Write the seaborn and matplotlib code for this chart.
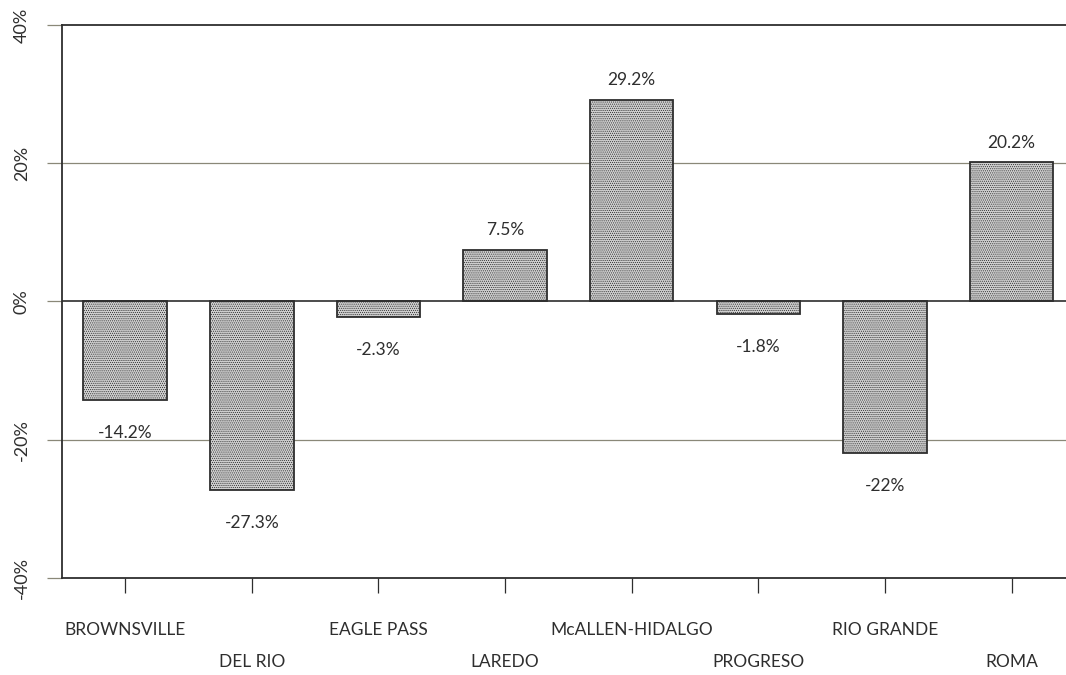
import numpy as np
import pandas as pd
import matplotlib
matplotlib.use('Agg')
import matplotlib.pyplot as plt
import seaborn as sns

sns.set_style('white')
plt.rcParams['font.family'] = ['Lato', 'DejaVu Sans']
plt.rcParams['hatch.color'] = '#9a9a9a'
plt.rcParams['hatch.linewidth'] = 0.5

crossings = ['BROWNSVILLE', 'DEL RIO', 'EAGLE PASS', 'LAREDO',
             'McALLEN-HIDALGO', 'PROGRESO', 'RIO GRANDE', 'ROMA']
change = [-14.2, -27.3, -2.3, 7.5, 29.2, -1.8, -22.0, 20.2]
value_labels = ['-14.2%', '-27.3%', '-2.3%', '7.5%', '29.2%', '-1.8%', '-22%', '20.2%']
yticks = [-40, -20, 0, 20, 40]
ytick_labels = ['-40%', '-20%', '0%', '20%', '40%']

df = pd.DataFrame({'crossing': crossings, 'change': change})

ink = '#2e2e2e'
fig = plt.figure(figsize=(10.66, 6.75), dpi=100)
ax = fig.add_axes([0.058, 0.144, 0.942, 0.819])

for y in [-20, 20]:
    ax.axhline(y, color='#8a8878', lw=0.9, zorder=0, clip_on=False)
ax.axhline(0, color=ink, lw=1.2, zorder=3)

sns.barplot(data=df, x='crossing', y='change', color='#d0d0d0', width=0.66,
            edgecolor=ink, linewidth=1.3, saturation=1, ax=ax, zorder=2)
for p in ax.patches:
    p.set_hatch('........')

for i, (v, lab) in enumerate(zip(change, value_labels)):
    if v >= 0:
        ax.annotate(lab, (i, v), xytext=(0, 8), textcoords='offset points',
                    ha='center', va='bottom', fontsize=12.5, color=ink)
    else:
        ax.annotate(lab, (i, v), xytext=(0, -18), textcoords='offset points',
                    ha='center', va='top', fontsize=12.5, color=ink)

ax.set_ylim(-40, 40)
ax.set_xlim(-0.5, 7.43)
ax.set_yticks(yticks)
ax.set_yticklabels(ytick_labels, rotation=90, va='center', fontsize=13, color=ink)
ax.set_xticks(range(len(crossings)))
ax.set_xticklabels(crossings, fontsize=12.5, color=ink)
ax.tick_params(axis='both', direction='out', length=11, width=0.9, color=ink,
               bottom=True, left=True)
ax.tick_params(axis='y', pad=12, color='#8a8878')
for i, t in enumerate(ax.xaxis.get_major_ticks()):
    t.set_pad(21 if i % 2 == 0 else 44)

ax.set_xlabel('')
ax.set_ylabel('')
for side in ['left', 'top', 'bottom']:
    ax.spines[side].set_visible(True)
    ax.spines[side].set_color(ink)
    ax.spines[side].set_linewidth(1.3)
ax.spines['right'].set_visible(False)

fig.savefig('out.png', dpi=100)
